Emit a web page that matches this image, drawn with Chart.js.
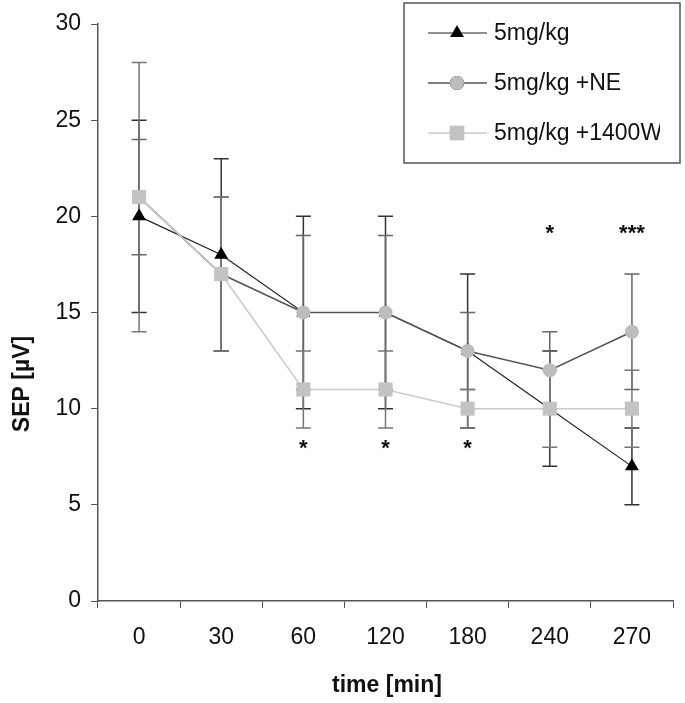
<!DOCTYPE html>
<html>
<head>
<meta charset="utf-8">
<script src="https://cdn.jsdelivr.net/npm/chart.js@4.4.0/dist/chart.umd.min.js"></script>
<style>
  html, body { margin: 0; padding: 0; background: #fff; }
  canvas { display: block; }
</style>
</head>
<body>
<canvas id="sepChart" width="685" height="703"></canvas>
<script>
// time points and SEP means / error bars
const timeLabels = ['0', '30', '60', '120', '180', '240', '270'];

const sep5 = [20, 18, 15, 15, 13, 10, 7];
const sep5Err = [5, 5, 5, 5, 4, 3, 2];

const sepNE = [21, 17, 15, 15, 13, 12, 14];
const sepNEErr = [3, 4, 4, 4, 2, 2, 3];

const sep1400W = [21, 17, 11, 11, 10, 10, 10];
const sep1400WErr = [7, 4, 2, 2, 1, 2, 2];

// significance marks
const starText = ['', '', '*', '*', '*', '*', '***'];
const starLevel = [null, null, 8.1, 8.1, 8.1, 19.3, 19.3];

const yTicks = [0, 5, 10, 15, 20, 25, 30];

const FONT = '"Liberation Sans", Arial, sans-serif';

const extrasPlugin = {
    id: 'extras',
    beforeDatasetsDraw(chart) {
        const ctx = chart.ctx;
        const x = chart.scales.x;
        const y = chart.scales.y;
        ctx.save();
        ctx.lineWidth = 1.5;
        chart.data.datasets.forEach(ds => {
            ctx.strokeStyle = ds.errorColor;
            ds.data.forEach((v, i) => {
                const e = ds.errors[i];
                const px = x.getPixelForValue(i);
                const top = y.getPixelForValue(v + e);
                const bot = y.getPixelForValue(v - e);
                ctx.beginPath();
                ctx.moveTo(px, top);
                ctx.lineTo(px, bot);
                ctx.moveTo(px - 7.5, top);
                ctx.lineTo(px + 7.5, top);
                ctx.moveTo(px - 7.5, bot);
                ctx.lineTo(px + 7.5, bot);
                ctx.stroke();
            });
        });
        ctx.restore();
    },
    afterDraw(chart) {
        const ctx = chart.ctx;
        const x = chart.scales.x;
        const y = chart.scales.y;
        ctx.save();

        // stars
        ctx.fillStyle = '#111';
        ctx.font = 'bold 22px ' + FONT;
        ctx.textAlign = 'center';
        ctx.textBaseline = 'middle';
        starText.forEach((s, i) => {
            if (!s) return;
            ctx.fillText(s, x.getPixelForValue(i), y.getPixelForValue(starLevel[i]) + 4);
        });

        // axis titles
        ctx.font = 'bold 23px ' + FONT;
        ctx.fillText('time [min]', 387, 686);
        ctx.save();
        ctx.translate(23, 384);
        ctx.rotate(-Math.PI / 2);
        ctx.fillText('SEP [µV]', 0, 0);
        ctx.restore();

        // legend box
        const bx = 404, by = 3, bw = 276, bh = 160;
        ctx.fillStyle = '#fff';
        ctx.fillRect(bx, by, bw, bh);
        ctx.strokeStyle = '#555';
        ctx.lineWidth = 1.5;
        ctx.strokeRect(bx, by, bw, bh);
        ctx.beginPath();
        ctx.rect(bx, by, 256, bh);
        ctx.clip();

        const rows = [33, 83, 133];
        chart.data.datasets.forEach((ds, i) => {
            const ry = rows[i];
            ctx.strokeStyle = ds.borderColor;
            ctx.lineWidth = ds.borderWidth;
            ctx.beginPath();
            ctx.moveTo(428, ry);
            ctx.lineTo(487, ry);
            ctx.stroke();
            Chart.helpers.drawPoint(ctx, {
                pointStyle: ds.pointStyle,
                radius: ds.pointRadius,
                rotation: 0,
                borderWidth: 0
            }, 457, ry);
            ctx.fillStyle = ds.pointBackgroundColor;
            ctx.fill();
            ctx.fillStyle = '#111';
            ctx.font = '23px ' + FONT;
            ctx.textAlign = 'left';
            ctx.fillText(ds.label, 494, ry + 1);
        });
        ctx.restore();
    }
};

new Chart(document.getElementById('sepChart'), {
    type: 'line',
    data: {
        labels: timeLabels,
        datasets: [
            {
                label: '5mg/kg',
                data: sep5,
                errors: sep5Err,
                errorColor: '#333',
                borderColor: '#222',
                borderWidth: 1.2,
                pointStyle: 'triangle',
                pointRadius: 8,
                pointBackgroundColor: '#000',
                pointBorderWidth: 0,
                order: 3
            },
            {
                label: '5mg/kg +NE',
                data: sepNE,
                errors: sepNEErr,
                errorColor: '#666',
                borderColor: '#555',
                borderWidth: 1.5,
                pointStyle: 'circle',
                pointRadius: 7,
                pointBackgroundColor: '#bdbdbd',
                pointBorderWidth: 0,
                order: 2
            },
            {
                label: '5mg/kg +1400W',
                data: sep1400W,
                errors: sep1400WErr,
                errorColor: '#777',
                borderColor: '#cacaca',
                borderWidth: 1.5,
                pointStyle: 'rect',
                pointRadius: 10,
                pointBackgroundColor: '#c3c3c3',
                pointBorderWidth: 0,
                order: 1
            }
        ]
    },
    options: {
        responsive: false,
        animation: false,
        layout: { padding: { left: 0, top: 24, right: 12, bottom: 0 } },
        plugins: {
            legend: { display: false },
            tooltip: { enabled: false }
        },
        elements: { line: { tension: 0 } },
        scales: {
            x: {
                offset: true,
                grid: { drawOnChartArea: false, drawTicks: true, tickLength: 7, color: '#555', offset: true },
                border: { color: '#555', width: 1.5 },
                ticks: { color: '#111', font: { family: FONT, size: 23 }, padding: 16, maxRotation: 0 },
                afterFit(scale) { scale.height = 102; }
            },
            y: {
                min: 0,
                max: 30,
                afterBuildTicks(scale) { scale.ticks = yTicks.map(v => ({ value: v })); },
                grid: { drawOnChartArea: false, drawTicks: true, tickLength: 7, color: '#555' },
                border: { color: '#555', width: 1.5 },
                ticks: { color: '#111', font: { family: FONT, size: 23 }, padding: 10 },
                afterFit(scale) { scale.width = 98; }
            }
        }
    },
    plugins: [extrasPlugin]
});
</script>
</body>
</html>
